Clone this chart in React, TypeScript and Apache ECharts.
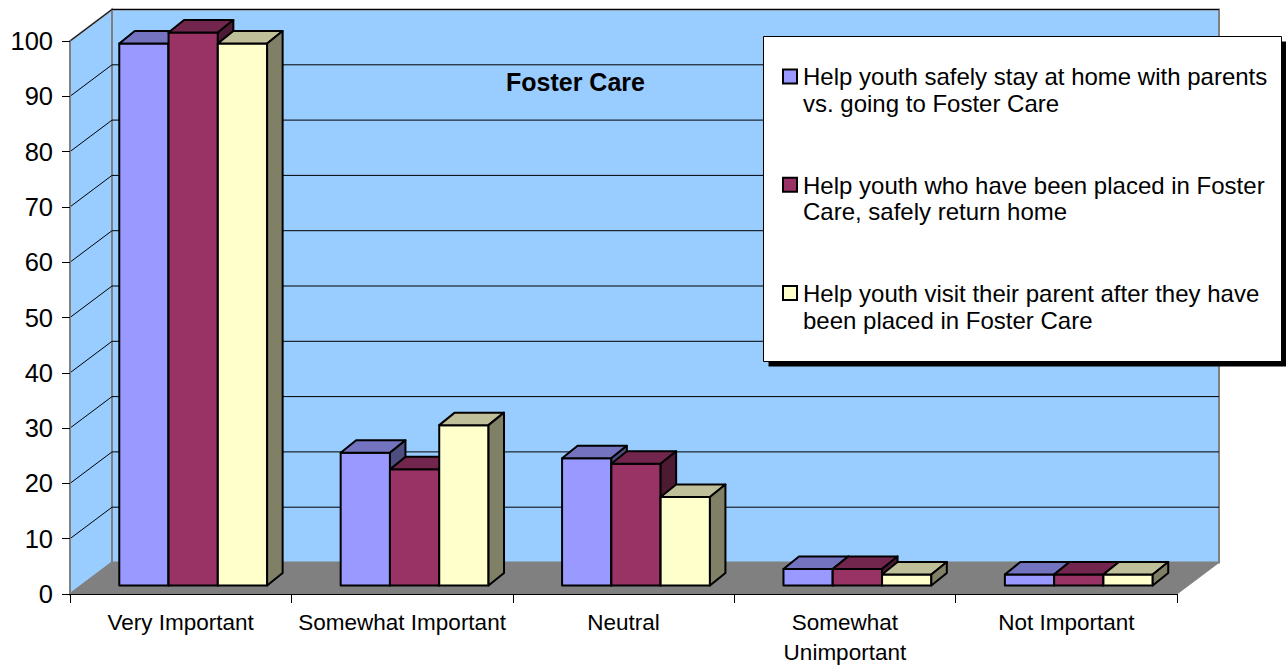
import React, { useEffect, useRef } from "react";
import * as echarts from "echarts";

// ---------- data ----------
const chartTitle = "Foster Care";
const categories = [
  "Very Important",
  "Somewhat Important",
  "Neutral",
  "Somewhat\nUnimportant",
  "Not Important",
];
const seriesNames = [
  "Help youth safely stay at home with parents\nvs. going to Foster Care",
  "Help youth who have been placed in Foster\nCare, safely return home",
  "Help youth visit their parent after they have\nbeen placed in Foster Care",
];
const stayHome = [98, 24, 23, 3, 2];
const returnHome = [100, 21, 22, 3, 2];
const visitParent = [98, 29, 16, 2, 2];
const yTicks = [0, 10, 20, 30, 40, 50, 60, 70, 80, 90, 100];

// ---------- styles ----------
const FONT = "'Liberation Sans', Arial, sans-serif";
const frontColors = ["#9999FF", "#993366", "#FFFFCC"];
const topColors = ["#7373BF", "#73264D", "#BFBF99"];
const sideColors = ["#4D4D80", "#4D1A33", "#808066"];
const WALL = "#99CCFF";
const FLOOR = "#808080";
const DEPTH_X = 42;
const DEPTH_Y = -31.5;
const BAR_SHIFT_X = 12.5;
const BAR_SHIFT_Y = -8.5;
const BAR_DEPTH_X = 15.5;
const BAR_DEPTH_Y = -12.5;
const BAR_FRACTION = 0.2226;

export default function App() {
  const ref = useRef<HTMLDivElement>(null);

  useEffect(() => {
    if (!ref.current) return;
    const chart = echarts.init(ref.current, undefined, { renderer: "svg" });
    const seriesValues = [stayHome, returnHome, visitParent];

    const wallSeries = {
      type: "custom",
      z: 1,
      silent: true,
      data: [[0, 0]],
      encode: { x: 0, y: 1 },
      renderItem: (params: any, api: any) => {
        const cs = params.coordSys;
        const x0 = cs.x;
        const x1 = cs.x + cs.width;
        const yT = cs.y;
        const yB = cs.y + cs.height;
        return {
          type: "group",
          children: [
            {
              type: "polygon",
              shape: {
                points: [
                  [x0, yB],
                  [x1, yB],
                  [x1 + DEPTH_X, yB + DEPTH_Y],
                  [x0 + DEPTH_X, yB + DEPTH_Y],
                ],
              },
              style: { fill: FLOOR, stroke: FLOOR, lineWidth: 1 },
            },
            {
              type: "polygon",
              shape: {
                points: [
                  [x0, yT],
                  [x0 + DEPTH_X, yT + DEPTH_Y],
                  [x0 + DEPTH_X, yB + DEPTH_Y],
                  [x0, yB],
                ],
              },
              style: { fill: WALL, stroke: "#808080", lineWidth: 2 },
            },
            {
              type: "rect",
              shape: {
                x: x0 + DEPTH_X,
                y: yT + DEPTH_Y,
                width: x1 - x0,
                height: yB - yT,
              },
              style: { fill: WALL, stroke: "#808080", lineWidth: 2 },
            },
          ],
        };
      },
    };

    const gridSeries = {
      type: "custom",
      z: 2,
      silent: true,
      data: yTicks.filter((t) => t > 0).map((t) => [0, t]),
      encode: { x: 0, y: 1 },
      renderItem: (params: any, api: any) => {
        const cs = params.coordSys;
        const y = api.coord([0, api.value(1)])[1];
        const x0 = cs.x;
        const x1 = cs.x + cs.width;
        return {
          type: "polyline",
          shape: {
            points: [
              [x0, y],
              [x0 + DEPTH_X, y + DEPTH_Y],
              [x1 + DEPTH_X, y + DEPTH_Y],
            ],
          },
          style: { stroke: "#000", lineWidth: 1, fill: null },
        };
      },
    };

    const barSeries = seriesValues.map((vals, s) => ({
      type: "custom",
      name: seriesNames[s],
      z: 3 + s,
      data: vals.map((v, i) => [i, v]),
      encode: { x: 0, y: 1 },
      renderItem: (params: any, api: any) => {
        const cat = api.value(0);
        const v = api.value(1);
        const base = api.coord([cat, 0]);
        const top = api.coord([cat, v]);
        const band = api.size([1, 0])[0];
        const bw = band * BAR_FRACTION;
        const xa = base[0] - 1.5 * bw + s * bw + BAR_SHIFT_X;
        const xb = xa + bw;
        const yb = base[1] + BAR_SHIFT_Y;
        const yt = top[1] + BAR_SHIFT_Y;
        const st = { stroke: "#000", lineWidth: 2, lineJoin: "round" };
        return {
          type: "group",
          children: [
            {
              type: "polygon",
              shape: { points: [[xa, yt], [xb, yt], [xb, yb], [xa, yb]] },
              style: { ...st, fill: frontColors[s] },
            },
            {
              type: "polygon",
              shape: {
                points: [
                  [xa, yt],
                  [xa + BAR_DEPTH_X, yt + BAR_DEPTH_Y],
                  [xb + BAR_DEPTH_X, yt + BAR_DEPTH_Y],
                  [xb, yt],
                ],
              },
              style: { ...st, fill: topColors[s] },
            },
            {
              type: "polygon",
              shape: {
                points: [
                  [xb, yt],
                  [xb + BAR_DEPTH_X, yt + BAR_DEPTH_Y],
                  [xb + BAR_DEPTH_X, yb + BAR_DEPTH_Y],
                  [xb, yb],
                ],
              },
              style: { ...st, fill: sideColors[s] },
            },
          ],
        };
      },
    }));

    const LEG_X = 763.5;
    const LEG_Y = 36.5;
    const LEG_W = 518;
    const LEG_H = 325;
    const ITEM_GAP = 108.3;
    const legendElems: any[] = [
      {
        type: "rect",
        z: 100,
        shape: { x: LEG_X + 5, y: LEG_Y + 5, width: LEG_W, height: LEG_H },
        style: { fill: "#000" },
      },
      {
        type: "rect",
        z: 101,
        shape: { x: LEG_X, y: LEG_Y, width: LEG_W, height: LEG_H },
        style: { fill: "#fff", stroke: "#000", lineWidth: 1 },
      },
    ];
    seriesNames.forEach((name, i) => {
      legendElems.push({
        type: "rect",
        z: 102,
        shape: { x: 783, y: 69.5 + i * ITEM_GAP, width: 14, height: 14 },
        style: { fill: frontColors[i], stroke: "#000", lineWidth: 2 },
      });
      legendElems.push({
        type: "text",
        z: 102,
        x: 803,
        y: 63.5 + i * ITEM_GAP,
        style: {
          text: name,
          fontSize: 24,
          fontFamily: FONT,
          lineHeight: 26.7,
          fill: "#000",
          verticalAlign: "top",
          align: "left",
        },
      });
    });

    chart.setOption({
      animation: false,
      title: {
        text: chartTitle,
        left: 506,
        top: 69.5,
        padding: 0,
        textStyle: {
          fontSize: 25,
          fontWeight: "bold",
          color: "#000",
          fontFamily: FONT,
        },
      },
      grid: {
        left: 70,
        right: 109,
        top: 41,
        bottom: 72,
        containLabel: false,
        outerBoundsMode: "none",
      },
      xAxis: {
        type: "category",
        data: categories,
        z: 10,
        axisLine: { show: true, lineStyle: { color: "#000", width: 1 } },
        axisTick: { show: true, length: 9, lineStyle: { color: "#000" } },
        axisLabel: {
          interval: 0,
          fontSize: 22.5,
          lineHeight: 30,
          margin: 13,
          color: "#000",
          fontFamily: FONT,
        },
        splitLine: { show: false },
      },
      yAxis: {
        type: "value",
        min: 0,
        max: 100,
        interval: 10,
        z: 10,
        axisLine: { show: true, lineStyle: { color: "#808080", width: 2 } },
        axisTick: { show: true, length: 8, lineStyle: { color: "#000" } },
        axisLabel: {
          fontSize: 25.5,
          margin: 17,
          color: "#000",
          fontFamily: FONT,
        },
        splitLine: { show: false },
      },
      series: [wallSeries, gridSeries, ...barSeries],
      graphic: legendElems,
    });

    return () => chart.dispose();
  }, []);

  return (
    <div
      ref={ref}
      style={{ position: "absolute", left: 0, top: 0, width: 1286, height: 666 }}
    />
  );
}
